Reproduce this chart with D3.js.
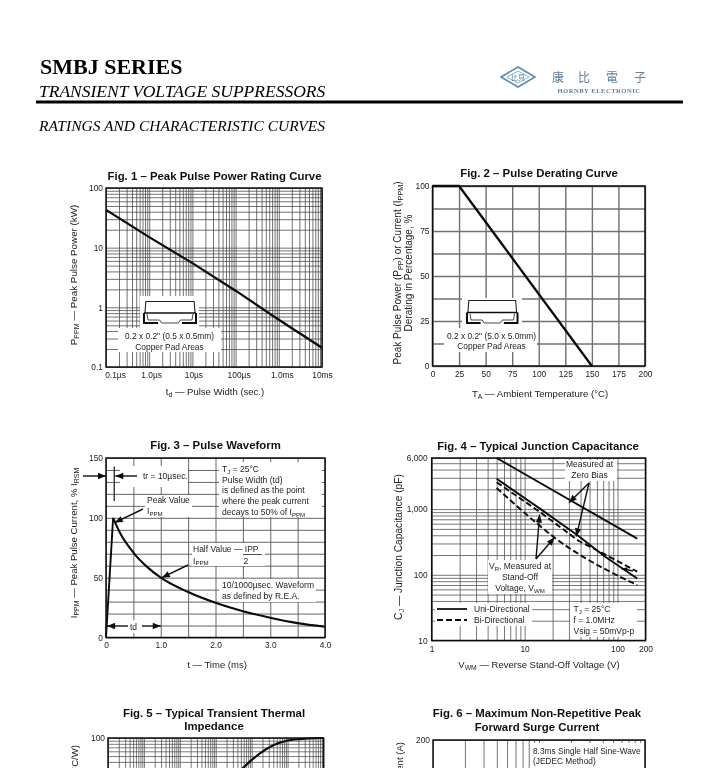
<!DOCTYPE html>
<html><head><meta charset="utf-8">
<script src="https://cdn.jsdelivr.net/npm/d3@7"></script>
<style>
html,body{margin:0;padding:0;background:#fff;overflow:hidden}
svg{display:block}
text{font-family:"Liberation Sans",Arial,sans-serif;fill:#222}
.serif{font-family:"Liberation Serif","Times New Roman",serif;fill:#000}
</style></head><body>
<svg id="c" width="719" height="768"></svg>
<script>
// ---------- data ----------
const fig1Width = [1e-7, 1e-6, 1e-5, 1e-4, 1e-3, 1e-2];
const fig1Power = [43, 15, 5.5, 1.9, 0.62, 0.21];
const fig1XLabels = ["0.1µs", "1.0µs", "10µs", "100µs", "1.0ms", "10ms"];
const fig1YTicks = [0.1, 1, 10, 100];

const fig2Temp = [0, 25, 150];
const fig2Derate = [100, 100, 0];
const fig2Ticks = [0, 25, 50, 75, 100, 125, 150, 175, 200];
const fig2YTicks = [0, 25, 50, 75, 100];

const fig3Time = [0, 0.13, 0.25, 0.5, 0.75, 1, 1.5, 2, 2.5, 3, 3.5, 4];
const fig3Current = [0, 100, 88, 71, 59, 50, 38, 29, 22, 16.5, 12, 9];
const fig3XTicks = [0, 1, 2, 3, 4];
const fig3XLabels = ["0", "1.0", "2.0", "3.0", "4.0"];
const fig3YTicks = [0, 50, 100, 150];

const fig4ZeroUniV = [5, 163];
const fig4ZeroUni = [6000, 355];
const fig4StandUniV = [5, 15, 38, 73, 163];
const fig4StandUni = [2900, 990, 390, 190, 88];
const fig4ZeroBiV = [5, 15, 38, 73, 163];
const fig4ZeroBi = [2570, 880, 330, 205, 112];
const fig4StandBiV = [5, 14, 21, 44, 94, 163];
const fig4StandBi = [2100, 585, 368, 183, 102, 70];
const fig4XTicks = [1, 10, 100, 200];
const fig4YTicks = [10, 100, 1000, 6000];

const fig5Time = [3, 5.75, 17, 40, 95, 224, 1000];
const fig5Imp = [20, 31.6, 55.6, 76, 90, 96, 100];

const fig6XMajor = [1, 2, 3, 4, 5, 6, 7, 8, 9, 10, 20, 30, 40, 50, 60, 70, 80, 90, 100];

// ---------- helpers ----------
const svg = d3.select("#c");
const defs = svg.append("defs");
defs.append("filter").attr("id", "soft").attr("x", 0).attr("y", 0).attr("width", 1).attr("height", 1)
  .append("feGaussianBlur").attr("stdDeviation", 0.35);
const root = svg.append("g").attr("filter", "url(#soft)");
root.append("rect").attr("width", 719).attr("height", 768).attr("fill", "#fff");

function rich(g, str, x, y, opt = {}) {
  const t = g.append("text").attr("x", x).attr("y", y)
    .attr("font-size", opt.size || 8.5)
    .attr("text-anchor", opt.anchor || "start");
  if (opt.weight) t.attr("font-weight", opt.weight);
  if (opt.rotate) t.attr("transform", `rotate(-90 ${x} ${y})`);
  const size = opt.size || 8.5;
  let pend = 0;
  str.split(/(\{[^}]*\})/).filter(s => s.length).forEach(s => {
    const sub = s[0] === "{";
    const sp = t.append("tspan").text(sub ? s.slice(1, -1) : s);
    if (sub) { sp.attr("font-size", size * 0.72).attr("dy", size * 0.22 + pend); pend = -size * 0.22; }
    else if (pend) { sp.attr("dy", pend); pend = 0; }
  });
  return t;
}
function whiteBox(g, x0, y0, x1, y1) {
  g.append("rect").attr("x", x0).attr("y", y0).attr("width", x1 - x0).attr("height", y1 - y0).attr("fill", "#fff");
}
function arrowPx(g, x0, y0, x1, y1, head = 8, w = 3.2) {
  g.append("line").attr("x1", x0).attr("y1", y0).attr("x2", x1).attr("y2", y1).attr("stroke", "#111").attr("stroke-width", 1.4);
  const a = Math.atan2(y1 - y0, x1 - x0), c = Math.cos(a), s = Math.sin(a);
  g.append("polygon").attr("fill", "#111").attr("points", [
    [x1, y1], [x1 - head * c - w * s, y1 - head * s + w * c], [x1 - head * c + w * s, y1 - head * s - w * c]
  ].join(" "));
}
function grid(g, x, y, xs, ys, P, color, sw) {
  g.append("g").attr("transform", `translate(0,${P.b})`)
    .call(d3.axisBottom(x).tickValues(xs).tickSizeInner(-(P.b - P.t)).tickSizeOuter(0).tickFormat(""))
    .call(a => a.select(".domain").remove())
    .call(a => a.selectAll("line").attr("stroke", color).attr("stroke-width", sw));
  g.append("g").attr("transform", `translate(${P.l},0)`)
    .call(d3.axisLeft(y).tickValues(ys).tickSizeInner(-(P.r - P.l)).tickSizeOuter(0).tickFormat(""))
    .call(a => a.select(".domain").remove())
    .call(a => a.selectAll("line").attr("stroke", color).attr("stroke-width", sw));
}
function frame(g, P) {
  g.append("rect").attr("x", P.l).attr("y", P.t).attr("width", P.r - P.l).attr("height", P.b - P.t)
    .attr("fill", "none").attr("stroke", "#111").attr("stroke-width", 1.5);
}
function labels(g, x, y, xv, xf, yv, yf, P, xPad, yPad, xDx) {
  g.append("g").attr("transform", `translate(0,${P.b})`)
    .call(d3.axisBottom(x).tickValues(xv).tickSize(0).tickPadding(xPad).tickFormat(xf))
    .call(a => a.select(".domain").remove())
    .call(a => a.selectAll("text").attr("font-size", 8.4).attr("font-family", null).attr("dx", (d, i) => xDx ? xDx[i] : 0));
  g.append("g").attr("transform", `translate(${P.l},0)`)
    .call(d3.axisLeft(y).tickValues(yv).tickSize(0).tickPadding(yPad).tickFormat(yf))
    .call(a => a.select(".domain").remove())
    .call(a => a.selectAll("text").attr("font-size", 8.4).attr("font-family", null));
}
function title(g, s, x, y) {
  g.append("text").attr("x", x).attr("y", y).attr("text-anchor", "middle")
    .attr("font-size", 11.4).attr("font-weight", "bold").style("fill", "#111").text(s);
}
function pkg(g, x0, x1, yTop, yMid, yBot) {
  const w = x1 - x0, ins = w * 0.03;
  g.append("path").attr("fill", "none").attr("stroke", "#222").attr("stroke-width", 1.1)
    .attr("d", `M${x0 + ins * 0.6},${yMid} L${x0 + ins * 1.2},${yTop} L${x1 - ins * 1.2},${yTop} L${x1 - ins * 0.6},${yMid}`);
  g.append("path").attr("fill", "none").attr("stroke", "#111").attr("stroke-width", 1.6)
    .attr("d", `M${x0},${yMid} L${x1},${yMid}`);
  g.append("path").attr("fill", "none").attr("stroke", "#111").attr("stroke-width", 2)
    .attr("d", `M${x0},${yMid} L${x0},${yBot} L${x0 + w * 0.27},${yBot} M${x1},${yMid} L${x1},${yBot} L${x1 - w * 0.27},${yBot}`);
  g.append("path").attr("fill", "none").attr("stroke", "#333").attr("stroke-width", 0.9)
    .attr("d", `M${x0 + 3},${yMid + 1} L${x0 + 4},${yBot - 3} L${x0 + w * 0.3},${yBot - 3} L${x0 + w * 0.34},${yBot} L${x1 - w * 0.34},${yBot} L${x1 - w * 0.3},${yBot - 3} L${x1 - 4},${yBot - 3} L${x1 - 3},${yMid + 1}`);
}
const zipLine = (x, y, xs, ys, curve) => d3.line().x(d => x(d[0])).y(d => y(d[1])).curve(curve || d3.curveLinear)(d3.zip(xs, ys));
function curvePath(g, x, y, xs, ys, sw, dash, curve) {
  const p = g.append("path").attr("fill", "none").attr("stroke", "#0a0a0a").attr("stroke-width", sw)
    .attr("d", zipLine(x, y, xs, ys, curve));
  if (dash) p.attr("stroke-dasharray", dash);
  return p;
}

// ---------- header ----------
const H = root.append("g");
H.append("text").attr("class", "serif").attr("x", 40).attr("y", 74).attr("font-size", 22).attr("font-weight", "bold").text("SMBJ SERIES");
H.append("text").attr("class", "serif").attr("x", 39).attr("y", 96.5).attr("font-size", 17.5).attr("font-style", "italic").text("TRANSIENT VOLTAGE SUPPRESSORS");
H.append("rect").attr("x", 36).attr("y", 100.5).attr("width", 647).attr("height", 3).attr("fill", "#000");
H.append("text").attr("class", "serif").attr("x", 39).attr("y", 131).attr("font-size", 15.5).attr("font-style", "italic").text("RATINGS AND CHARACTERISTIC CURVES");
// logo
const LC = "#5d8bae";
H.append("polygon").attr("points", "501,77 518,67 535,77 518,87").attr("fill", "none").attr("stroke", LC).attr("stroke-width", 1.6);
H.append("polygon").attr("points", "507,77 518,71 529,77 518,83").attr("fill", "none").attr("stroke", LC).attr("stroke-width", 0.7);
H.append("text").attr("x", 518).attr("y", 80).attr("text-anchor", "middle").attr("font-size", 7).style("fill", LC)
  .style("font-family", "'Noto Sans CJK SC'").text("比貝");
["康", "比", "電", "子"].forEach((c, i) => {
  H.append("text").attr("x", [558, 584, 612, 640][i]).attr("y", 81.5).attr("text-anchor", "middle")
    .attr("font-size", 12).style("fill", "#5f7f9c").style("font-family", "'Noto Sans CJK SC'").text(c);
});
H.append("text").attr("class", "serif").attr("x", 599).attr("y", 92.5).attr("text-anchor", "middle")
  .attr("font-size", 6.6).attr("font-weight", "bold").attr("letter-spacing", 0.5).style("fill", "#66809a").text("HORNBY ELECTRONIC");

// ---------- Fig 1 ----------
{
  const g = root.append("g");
  const P = { l: 106, r: 322, t: 188, b: 367 };
  const x = d3.scaleLog().domain([1e-7, 1e-2]).range([P.l, P.r]);
  const y = d3.scaleLog().domain([0.1, 100]).range([P.b, P.t]);
  grid(g, x, y, x.ticks(), y.ticks(), P, "#444", 0.75);
  whiteBox(g, 140, 296, 199, 328);
  whiteBox(g, 118, 328, 221, 352);
  pkg(g, 144, 196, 301.5, 313, 323);
  rich(g, "0.2 x 0.2\" (0.5 x 0.5mm)", 169.5, 339, { anchor: "middle", size: 8.4 });
  rich(g, "Copper Pad Areas", 169.5, 349.5, { anchor: "middle", size: 8.4 });
  curvePath(g, x, y, fig1Width, fig1Power, 2.2);
  frame(g, P);
  labels(g, x, y, fig1Width, (d, i) => fig1XLabels[i], fig1YTicks, d => d3.format("~g")(d), P, 5, 3, [9, 2, 1, 3, 3, 0]);
  title(g, "Fig. 1 – Peak Pulse Power Rating Curve", 214.5, 179.5);
  rich(g, "t{d} — Pulse Width (sec.)", 215, 395, { anchor: "middle", size: 9.5 });
  rich(g, "P{PPM} — Peak Pulse Power (kW)", 77, 275, { anchor: "middle", size: 9.8, rotate: true });
}

// ---------- Fig 2 ----------
{
  const g = root.append("g");
  const P = { l: 432.5, r: 645, t: 186, b: 366 };
  const x = d3.scaleLinear().domain([0, 200]).range([P.l, P.r]);
  const y = d3.scaleLinear().domain([0, 100]).range([P.b, P.t]);
  grid(g, x, y, fig2Ticks, d3.range(0, 101, 12.5), P, "#707070", 1.4);
  whiteBox(g, 462, 298, 522, 328);
  whiteBox(g, 444, 328, 537, 352);
  pkg(g, 467, 517.5, 300.5, 312.5, 323);
  rich(g, "0.2 x 0.2\" (5.0 x 5.0mm)", 491.5, 338.5, { anchor: "middle", size: 8.4 });
  rich(g, "Copper Pad Areas", 491.5, 349, { anchor: "middle", size: 8.4 });
  curvePath(g, x, y, fig2Temp, fig2Derate, 2.3);
  frame(g, P);
  labels(g, x, y, fig2Ticks, d => d, fig2YTicks, d => d, P, 5, 3);
  title(g, "Fig. 2 – Pulse Derating Curve", 539, 177);
  rich(g, "T{A} —  Ambient Temperature (°C)", 540, 397, { anchor: "middle", size: 9.6 });
  rich(g, "Peak Pulse Power (P{PP}) or Current (I{PPM})", 401, 273, { anchor: "middle", size: 10, rotate: true });
  rich(g, "Derating in Percentage, %", 412, 273, { anchor: "middle", size: 10, rotate: true });
}

// ---------- Fig 3 ----------
{
  const g = root.append("g");
  const P = { l: 106, r: 325, t: 458, b: 637.5 };
  const x = d3.scaleLinear().domain([0, 4]).range([P.l, P.r]);
  const y = d3.scaleLinear().domain([0, 150]).range([P.b, P.t]);
  grid(g, x, y, d3.range(0, 4.01, 0.5), d3.range(0, 151, 10), P, "#555", 0.9);
  whiteBox(g, 219, 462, 322, 517);
  whiteBox(g, 120, 466, 188, 487);
  whiteBox(g, 145, 495, 192, 517);
  whiteBox(g, 192, 543, 265, 566);
  whiteBox(g, 219, 579, 316, 602);
  whiteBox(g, 110, 620, 158, 633);
  curvePath(g, x, y, fig3Time.slice(0, 2), fig3Current.slice(0, 2), 1.9);
  curvePath(g, x, y, fig3Time.slice(1), fig3Current.slice(1), 2.1, null, d3.curveMonotoneX);
  frame(g, P);
  labels(g, x, y, fig3XTicks, (d, i) => fig3XLabels[i], fig3YTicks, d => d, P, 5, 3);
  title(g, "Fig. 3 – Pulse Waveform", 215.5, 449);
  const S = 8.5;
  ["T{J} = 25°C", "Pulse Width (td)", "is defined as the point", "where the peak current", "decays to 50% of I{PPM}"]
    .forEach((s, i) => rich(g, s, 222, 472 + i * 10.7, { size: S }));
  rich(g, "tr = 10µsec.", 143, 479, { size: S });
  rich(g, "Peak Value", 147, 503, { size: S });
  rich(g, "I{PPM}", 147, 514, { size: S });
  rich(g, "Half Value — IPP", 193, 552, { size: S });
  g.append("line").attr("x1", 243).attr("x2", 262).attr("y1", 554.5).attr("y2", 554.5).attr("stroke", "#222").attr("stroke-width", 0.8);
  rich(g, "I{PPM}", 193, 563.5, { size: S });
  rich(g, "2", 243.5, 563.5, { size: S });
  rich(g, "10/1000µsec. Waveform", 222, 588, { size: S });
  rich(g, "as defined by R.E.A.", 222, 599, { size: S });
  rich(g, "td", 130, 629.5, { size: S });
  // tr / td / annotation arrows
  g.append("line").attr("x1", x(0.15)).attr("x2", x(0.15)).attr("y1", y(143)).attr("y2", y(114)).attr("stroke", "#111").attr("stroke-width", 1.2);
  arrowPx(g, 83, 476, x(0), 476);
  arrowPx(g, 137, 476, x(0.17), 476);
  arrowPx(g, 128, 626, x(0.02), 626);
  arrowPx(g, 142, 626, x(1), 626);
  arrowPx(g, 143, 509, x(0.16), y(96));
  arrowPx(g, 188, 565, x(1.02), y(50));
  rich(g, "t —  Time (ms)", 217, 667.5, { anchor: "middle", size: 9.5 });
  rich(g, "I{PPM} — Peak Pulse Current, % I{RSM}", 77, 543, { anchor: "middle", size: 9.6, rotate: true });
}

// ---------- Fig 4 ----------
{
  const g = root.append("g");
  const P = { l: 431.7, r: 645.5, t: 458, b: 640.5 };
  const x = d3.scaleLog().domain([1, 200]).range([P.l, P.r]);
  const y = d3.scaleLog().domain([10, 6000]).range([P.b, P.t]);
  grid(g, x, y, x.ticks().filter(d => d <= 200), y.ticks().concat([6000]), P, "#555", 0.8);
  whiteBox(g, 565, 460, 617, 481);
  whiteBox(g, 488, 560, 552, 594);
  whiteBox(g, 435, 603, 532, 626);
  whiteBox(g, 570, 603, 637, 637);
  curvePath(g, x, y, fig4ZeroUniV, fig4ZeroUni, 1.9);
  curvePath(g, x, y, fig4StandUniV, fig4StandUni, 1.9);
  curvePath(g, x, y, fig4ZeroBiV, fig4ZeroBi, 1.9, "6 3");
  curvePath(g, x, y, fig4StandBiV, fig4StandBi, 1.9, "6 3", d3.curveMonotoneX);
  frame(g, P);
  labels(g, x, y, fig4XTicks, d => d, fig4YTicks, d => d3.format(",")(d), P, 6, 4);
  title(g, "Fig. 4 – Typical Junction Capacitance", 538, 450);
  const S = 8.5;
  rich(g, "Measured at", 589.5, 467, { anchor: "middle", size: S });
  rich(g, "Zero Bias", 589.5, 478, { anchor: "middle", size: S });
  rich(g, "V{R}, Measured at", 520, 569, { anchor: "middle", size: S });
  rich(g, "Stand-Off", 520, 580, { anchor: "middle", size: S });
  rich(g, "Voltage, V{WM}", 520, 591, { anchor: "middle", size: S });
  g.append("line").attr("x1", 437).attr("x2", 467).attr("y1", 609).attr("y2", 609).attr("stroke", "#111").attr("stroke-width", 1.8);
  g.append("line").attr("x1", 437).attr("x2", 467).attr("y1", 620).attr("y2", 620).attr("stroke", "#111").attr("stroke-width", 1.8).attr("stroke-dasharray", "6 3");
  rich(g, "Uni-Directional", 474, 612, { size: S });
  rich(g, "Bi-Directional", 474, 623, { size: S });
  rich(g, "T{J} = 25°C", 573.5, 612, { size: S });
  rich(g, "f = 1.0MHz", 573.5, 623, { size: S });
  rich(g, "Vsig = 50mVp-p", 573.5, 634, { size: S });
  arrowPx(g, 589, 483, x(30), y(1250));
  arrowPx(g, 589, 483, x(36), y(385));
  arrowPx(g, 536, 559, x(14.5), y(830));
  arrowPx(g, 536, 559, x(21), y(370));
  arrowPx(g, 633, 571, x(110), y(125), 6, 2.5);
  rich(g, "V{WM} — Reverse Stand-Off Voltage (V)", 539, 668, { anchor: "middle", size: 9.5 });
  rich(g, "C{J} — Junction Capacitance (pF)", 402, 547, { anchor: "middle", size: 10.2, rotate: true });
}

// ---------- Fig 5 ----------
{
  const g = root.append("g");
  const P = { l: 108, r: 323.5, t: 738, b: 918 };
  const x = d3.scaleLog().domain([1e-3, 1e3]).range([P.l, P.r]);
  const y = d3.scaleLog().domain([0.1, 100]).range([P.b, P.t]);
  grid(g, x, y, x.ticks(), y.ticks(), P, "#444", 0.7);
  curvePath(g, x, y, fig5Time, fig5Imp, 2.2, null, d3.curveMonotoneX);
  frame(g, P);
  labels(g, x, y, [], d => d, [100], d => d, P, 5, 3);
  title(g, "Fig. 5 – Typical Transient Thermal", 214, 717);
  title(g, "Impedance", 214, 730);
  rich(g, "Transient Thermal Impedance (°C/W)", 78, 745, { anchor: "end", size: 9.6, rotate: true });
}

// ---------- Fig 6 ----------
{
  const g = root.append("g");
  const P = { l: 433, r: 645, t: 740, b: 920 };
  const x = d3.scaleLog().domain([1, 100]).range([P.l, P.r]);
  const y = d3.scaleLinear().domain([0, 200]).range([P.b, P.t]);
  grid(g, x, y, fig6XMajor, [200], P, "#666", 0.9);
  whiteBox(g, 530, 743, 643, 775);
  frame(g, P);
  labels(g, x, y, [], d => d, [200], d => d, P, 5, 3);
  title(g, "Fig. 6 – Maximum Non-Repetitive Peak", 537, 717);
  title(g, "Forward Surge Current", 537, 731);
  rich(g, "8.3ms Single Half Sine-Wave", 533, 754, { size: 8.3 });
  rich(g, "(JEDEC Method)", 533, 764, { size: 8.3 });
  rich(g, "Unidirectional Only", 533, 774.5, { size: 8.3 });
  rich(g, "Peak Forward Surge Current (A)", 403, 742, { anchor: "end", size: 9.6, rotate: true });
}
</script>
</body></html>
